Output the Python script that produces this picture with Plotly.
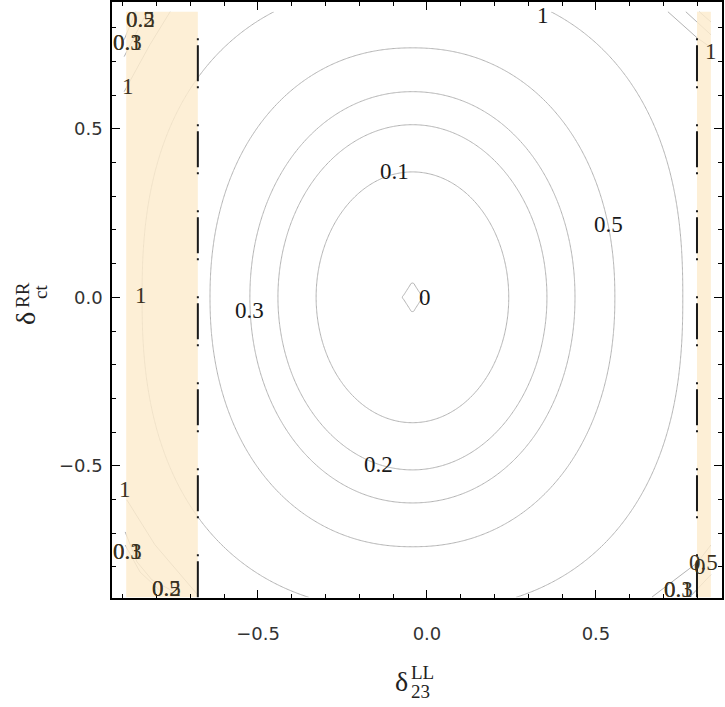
import numpy as np
import plotly.graph_objects as go

# ---- data (data units) ----
levels = [0.0, 0.1, 0.2, 0.3, 0.5, 1.0]               # contour levels
semi_x = [0.030, 0.285, 0.398, 0.481, 0.599, 0.800]    # half-width of each ring
semi_y = [0.047, 0.372, 0.512, 0.610, 0.740, 0.930]    # half-height of each ring
shape_p = [1.0, 2.0, 2.0, 2.05, 2.15, 2.4]             # ring squareness
center_x = -0.043
center_y = 0.0

grid_x_range = [-0.89, 0.84]
grid_y_range = [-0.89, 0.847]

band_left_x = [-0.89, -0.678]
band_right_x = [0.799, 0.840]
band_y = [-0.89, 0.847]
boundary_x = [-0.678, 0.799]

# corner contour branches
corner_lines = [
    ([-0.896, -0.820, -0.760], [0.610, 0.749, 0.847]),
    ([-0.896, -0.828], [0.714, 0.847]),
    ([-0.896, -0.862], [0.764, 0.847]),
    ([-0.888, -0.805, -0.678], [-0.601, -0.734, -0.883]),
    ([-0.893, -0.858, -0.814, -0.731], [-0.696, -0.785, -0.838, -0.883]),
    ([-0.893, -0.849, -0.790], [-0.735, -0.815, -0.870]),
    ([0.713, 0.799, 0.840], [0.847, 0.770, 0.741]),
    ([0.766, 0.840], [0.847, 0.779]),
    ([0.806, 0.840], [0.847, 0.817]),
    ([0.666, 0.734, 0.799, 0.840], [-0.889, -0.838, -0.788, -0.735]),
    ([0.778, 0.840], [-0.889, -0.823]),
]

# contour labels: (text, x, y, in_band)
contour_labels = [
    ("0", -0.006, 0.0, False),
    ("0.1", -0.095, 0.372, False),
    ("0.2", -0.142, -0.497, False),
    ("0.3", -0.524, -0.040, False),
    ("0.5", 0.538, 0.215, False),
    ("1", 0.343, 0.836, False),
    ("1", -0.846, 0.004, True),
    ("1", -0.885, 0.625, True),
    ("1", -0.893, -0.571, True),
    ("1", 0.840, 0.728, True),
    ("0.3", -0.885, 0.755, True),
    ("0.1", -0.885, 0.755, True),
    ("0.2", -0.849, 0.823, True),
    ("0.5", -0.849, 0.823, True),
    ("0.3", -0.885, -0.755, True),
    ("0.1", -0.885, -0.755, True),
    ("0.2", -0.772, -0.865, True),
    ("0.5", -0.772, -0.865, True),
    ("0.3", 0.743, -0.868, True),
    ("0.1", 0.743, -0.868, True),
    ("0.5", 0.818, -0.788, True),
    ("0", 0.808, -0.800, True),
]

# ---- each read ring is drawn as the unit level set of its own shape field ----
gx = np.linspace(grid_x_range[0], grid_x_range[1], 241)
gy = np.linspace(grid_y_range[0], grid_y_range[1], 241)
X, Y = np.meshgrid(gx, gy)
dx = np.abs(X - center_x)
dy = np.abs(Y - center_y)

LINE_GREY = "#b3b3b3"
fig = go.Figure()
for L, a, b, p in zip(levels, semi_x, semi_y, shape_p):
    ring_field = np.round((dx / a) ** p + (dy / b) ** p, 4)
    fig.add_trace(go.Contour(
        x=gx, y=gy, z=ring_field, autocontour=False, name=str(L),
        contours=dict(start=1, end=1, size=1, coloring="none", showlabels=False),
        line=dict(color=LINE_GREY, width=1, smoothing=1.3), showscale=False, hoverinfo="skip",
    ))

for cx, cy in corner_lines:
    fig.add_trace(go.Scatter(x=cx, y=cy, mode="lines",
                             line=dict(color=LINE_GREY, width=1), hoverinfo="skip",
                             showlegend=False))

for bx in (band_left_x, band_right_x):
    fig.add_trace(go.Scatter(
        x=[bx[0], bx[1], bx[1], bx[0], bx[0]],
        y=[band_y[0], band_y[0], band_y[1], band_y[1], band_y[0]],
        mode="lines", fill="toself", fillcolor="rgba(252,236,205,0.82)",
        line=dict(width=0), hoverinfo="skip", showlegend=False))

for bx in boundary_x:
    fig.add_trace(go.Scatter(
        x=[bx, bx], y=band_y, mode="lines",
        line=dict(color="#1a1a1a", width=2, dash="36px,5px,2px,36px,2px,5px"),
        hoverinfo="skip", showlegend=False))

annotations = []
for text, lx, ly, inband in contour_labels:
    annotations.append(dict(
        x=lx, y=ly, xref="x", yref="y", text=text, showarrow=False,
        font=dict(family="Liberation Serif", size=23,
                  color="#3a3222" if inband else "#1a1a1a"),
        xanchor="center", yanchor="middle"))

SERIF = "Liberation Serif"
# axis titles built from pieces (delta with stacked super/subscript)
annotations += [
    dict(x=0.4738, y=-0.1393, xref="paper", yref="paper", text="δ", showarrow=False,
         font=dict(family=SERIF, size=28, color="#222"), xanchor="center", yanchor="middle"),
    dict(x=0.4870, y=-0.1250, xref="paper", yref="paper", text="LL", showarrow=False,
         font=dict(family=SERIF, size=19, color="#222"), xanchor="left", yanchor="middle"),
    dict(x=0.4870, y=-0.1570, xref="paper", yref="paper", text="23", showarrow=False,
         font=dict(family=SERIF, size=19, color="#222"), xanchor="left", yanchor="middle"),
    dict(x=-0.141, y=0.4698, xref="paper", yref="paper", text="δ", showarrow=False,
         textangle=-90, font=dict(family=SERIF, size=28, color="#222"),
         xanchor="center", yanchor="middle"),
    dict(x=-0.1460, y=0.5084, xref="paper", yref="paper", text="RR", showarrow=False,
         textangle=-90, font=dict(family=SERIF, size=19, color="#222"),
         xanchor="center", yanchor="middle"),
    dict(x=-0.1180, y=0.5134, xref="paper", yref="paper", text="ct", showarrow=False,
         textangle=-90, font=dict(family=SERIF, size=19, color="#222"),
         xanchor="center", yanchor="middle"),
]

axis_common = dict(
    showline=True, linecolor="black", linewidth=1.5, mirror="allticks",
    ticks="inside", ticklen=8, tickwidth=1, tickcolor="black",
    tick0=0, dtick=0.5, tickformat=".1f",
    minor=dict(ticks="inside", ticklen=4, tickwidth=1, tickcolor="black", dtick=0.1, tick0=0),
    showgrid=False, zeroline=False, automargin=False,
    tickfont=dict(family="DejaVu Sans", size=18, color="#333"),
)
fig.update_layout(
    template="none",
    width=725, height=707,
    margin=dict(l=112, r=3, t=2, b=109, autoexpand=False),
    paper_bgcolor="white", plot_bgcolor="white",
    showlegend=False,
    xaxis=dict(range=[-0.932, 0.873], ticklabelstandoff=19, **axis_common),
    yaxis=dict(range=[-0.892, 0.876], ticklabelstandoff=4, **axis_common),
    annotations=annotations,
)
fig.write_html("out.html", config={"displayModeBar": False},
               post_script="document.body.style.margin='0';document.body.style.overflow='hidden';")
